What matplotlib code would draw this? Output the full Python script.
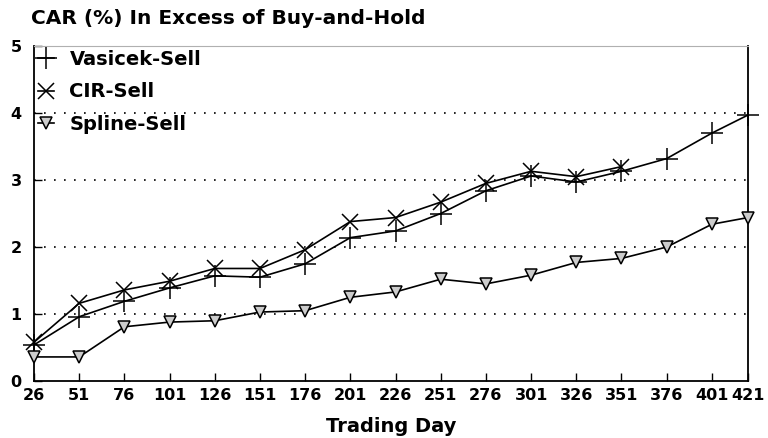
import matplotlib.pyplot as plt

plt.rcParams["font.family"] = ["DejaVu Sans"]
plt.rcParams["font.weight"] = "bold"

days = [26, 51, 76, 101, 126, 151, 176, 201, 226, 251, 276, 301, 326, 351, 376, 401, 421]
vasicek = [0.54, 0.96, 1.19, 1.39, 1.57, 1.55, 1.75, 2.14, 2.24, 2.50, 2.84, 3.06, 2.97, 3.13, 3.32, 3.70, 3.97]
cir_days = days[:14]
cir = [0.58, 1.16, 1.36, 1.49, 1.68, 1.68, 1.96, 2.38, 2.44, 2.67, 2.95, 3.13, 3.05, 3.20]
spline = [0.36, 0.36, 0.81, 0.88, 0.90, 1.03, 1.05, 1.25, 1.33, 1.52, 1.45, 1.58, 1.77, 1.83, 2.00, 2.34, 2.44]

fig = plt.figure(figsize=(7.68, 4.38), dpi=100)
ax = fig.add_axes([0.0443, 0.130, 0.9297, 0.765])

# dotted grid lines
for y in [1, 2, 3, 4]:
    ax.axhline(y, color="black", linestyle=(0, (1, 5)), linewidth=1.2, zorder=1)

ax.plot(days, vasicek, color="black", linewidth=1.2, marker="+", markersize=16,
        markeredgewidth=1.1, label="Vasicek-Sell", zorder=3, clip_on=False)
ax.plot(cir_days, cir, color="black", linewidth=1.2, marker="x", markersize=12,
        markeredgewidth=1.1, label="CIR-Sell", zorder=3, clip_on=False)
ax.plot(days, spline, color="black", linewidth=1.2, marker="v", markersize=9,
        markerfacecolor="#cccccc", markeredgecolor="black", markeredgewidth=1.1,
        label="Spline-Sell", zorder=3, clip_on=False)

ax.set_xlim(26, 421)
ax.set_ylim(0, 5)
ax.set_xticks(days)
ax.set_yticks([0, 1, 2, 3, 4, 5])
ax.tick_params(direction="in", length=6, width=1, labelsize=11.5)
ax.tick_params(axis="x", pad=5)
ax.tick_params(axis="y", pad=9)
for lbl in ax.get_xticklabels() + ax.get_yticklabels():
    lbl.set_fontweight("bold")

ax.spines["top"].set_color("#b0b0b0")
for s in ["left", "right", "bottom"]:
    ax.spines[s].set_linewidth(1.3)

ax.set_xlabel("Trading Day", fontsize=14, fontweight="bold", labelpad=10)
fig.text(0.040, 0.957, "CAR (%) In Excess of Buy-and-Hold", fontsize=14.5,
         fontweight="bold", ha="left", va="center")

leg = ax.legend(loc="upper left", frameon=False, fontsize=14, handlelength=0.8,
                handletextpad=0.8, labelspacing=0.68, borderaxespad=0.0,
                borderpad=0.22)
for t in leg.get_texts():
    t.set_fontweight("bold")

fig.savefig("out.png", dpi=100)
